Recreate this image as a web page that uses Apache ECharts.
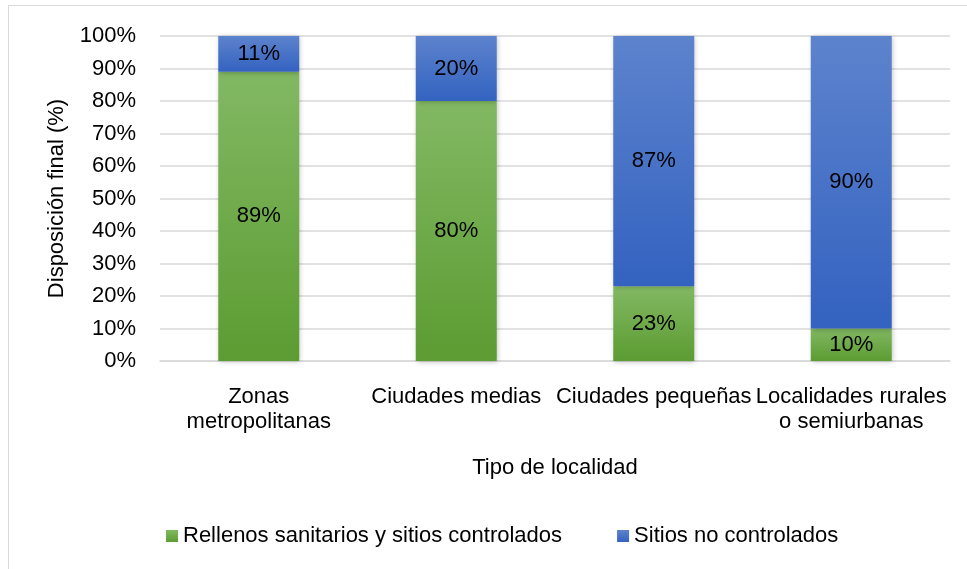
<!DOCTYPE html>
<html>
<head>
<meta charset="utf-8">
<script src="https://cdn.jsdelivr.net/npm/echarts@6/dist/echarts.min.js"></script>
<style>
  html, body { margin: 0; padding: 0; background: #fff; }
  #chart { width: 967px; height: 569px; }
  .frame { position: absolute; left: 8px; top: 5px; width: 959px; height: 564px;
    border-left: 1px solid #d9d9d9; border-top: 1px solid #d9d9d9; pointer-events: none; }
</style>
</head>
<body>
<div id="chart"></div>
<div class="frame"></div>
<script>
const categories = ['Zonas\nmetropolitanas', 'Ciudades medias', 'Ciudades pequeñas', 'Localidades rurales\no semiurbanas']
const controlados = [89, 80, 23, 10]
const noControlados = [11, 20, 87, 90]
const seriesNames = ['Rellenos sanitarios y sitios controlados', 'Sitios no controlados']

const font = 'Liberation Sans, Arial, sans-serif'
const fs = 22

function grad(top, bottom) {
  return new echarts.graphic.LinearGradient(0, 0, 0, 1, [
    { offset: 0, color: top },
    { offset: 1, color: bottom }
  ])
}

const chart = echarts.init(document.getElementById('chart'))

const barBase = {
  type: 'bar',
  stack: 'total',
  barWidth: '41%',
  label: {
    show: true,
    position: 'inside',
    formatter: '{c}%',
    color: '#000',
    fontSize: fs,
    fontFamily: font
  }
}

chart.setOption({
  animation: false,
  grid: { left: 160, right: 17, top: 36, bottom: 208 },
  legend: {
    top: 520,
    left: 161,
    itemWidth: 12,
    itemHeight: 12,
    itemGap: 55,
    icon: 'rect',
    textStyle: { fontSize: fs, fontFamily: font, color: '#000' }
  },
  xAxis: {
    type: 'category',
    data: categories,
    name: 'Tipo de localidad',
    nameLocation: 'middle',
    nameGap: 96,
    nameTextStyle: { fontSize: fs, fontFamily: font, color: '#000' },
    axisLine: { lineStyle: { color: '#d9d9d9', width: 1.5 } },
    axisTick: { show: false },
    axisLabel: { interval: 0, fontSize: fs, fontFamily: font, color: '#000', margin: 23, lineHeight: 25 }
  },
  yAxis: {
    type: 'value',
    min: 0,
    max: 100,
    interval: 10,
    name: 'Disposición final (%)',
    nameLocation: 'middle',
    nameGap: 92,
    nameTextStyle: { fontSize: fs, fontFamily: font, color: '#000' },
    axisLabel: { formatter: '{value}%', fontSize: fs, fontFamily: font, color: '#000', margin: 24 },
    splitLine: { lineStyle: { color: '#d9d9d9', width: 1.5 } }
  },
  series: [
    Object.assign({}, barBase, {
      name: seriesNames[0],
      data: controlados,
      itemStyle: {
        color: grad('#82b863', '#5c9c32'),
        shadowColor: 'rgba(0,0,0,0.25)', shadowBlur: 5, shadowOffsetX: 1, shadowOffsetY: 1
      }
    }),
    Object.assign({}, barBase, {
      name: seriesNames[1],
      data: noControlados,
      itemStyle: {
        color: grad('#5d83cd', '#3362c0'),
        shadowColor: 'rgba(0,0,0,0.25)', shadowBlur: 5, shadowOffsetX: 1, shadowOffsetY: 1
      }
    })
  ]
})
</script>
</body>
</html>
